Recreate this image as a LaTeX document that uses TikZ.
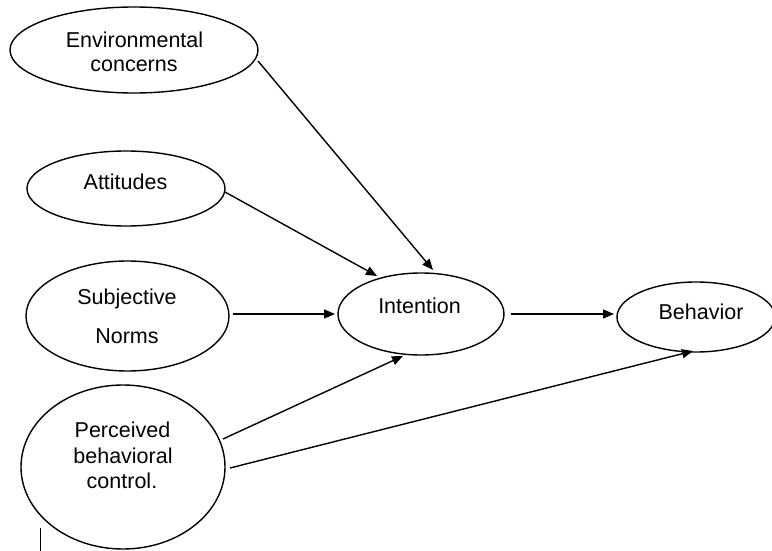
\documentclass[tikz,border=0pt]{standalone}
\usepackage{fontspec}
\setmainfont{Liberation Sans}
\usetikzlibrary{shapes.geometric,arrows.meta}
\begin{document}
\begin{tikzpicture}[x=1pt,y=-1pt,
  oval/.style={draw=black,line width=1.4pt,ellipse,inner sep=0pt},
  lbl/.style={anchor=base,inner sep=0pt,font=\fontsize{21.5}{25}\selectfont},
  arr/.style={line width=1.4pt,-{Triangle[length=11pt,width=9pt]}}]
\useasboundingbox (0,0) rectangle (772,551);
% ellipses
\node[oval,minimum width=248pt,minimum height=86pt] (env) at (134,50) {};
\node[oval,minimum width=198pt,minimum height=75pt] (att) at (126,188.5) {};
\node[oval,minimum width=203pt,minimum height=110pt] (sn) at (127.5,316) {};
\node[oval,minimum width=204pt,minimum height=164pt] (pbc) at (123,467) {};
\node[oval,minimum width=166pt,minimum height=82pt] (int) at (421,314) {};
\node[oval,minimum width=158pt,minimum height=70pt] (beh) at (696,317) {};
% texts
\node[lbl] (envA) at (134.5,48) {Environmental};
\node[lbl] (envB) at (134,72) {concerns};
\node[lbl] (attA) at (125.5,189) {Attitudes};
\node[lbl] (snA) at (127,304) {Subjective};
\node[lbl] (snB) at (127,343) {Norms};
\node[lbl] (intA) at (419.5,313) {Intention};
\node[lbl] (behA) at (701,319) {Behavior};
\node[lbl] (pbcA) at (122.5,437) {Perceived};
\node[lbl] (pbcB) at (123,463) {behavioral};
\node[lbl] (pbcC) at (122,488) {control.};
% connector end points
\coordinate (e1) at (258,61);
\coordinate (e2) at (433,270);
\coordinate (a1) at (225,192);
\coordinate (a2) at (377,276);
\coordinate (s1) at (233,314);
\coordinate (s2) at (335,314);
\coordinate (i1) at (511,314);
\coordinate (i2) at (614,314);
\coordinate (p1) at (223,439);
\coordinate (p2) at (403,356);
\coordinate (q1) at (230,468);
\coordinate (q2) at (693,351);
\draw[arr] (e1) -- (e2);
\draw[arr] (a1) -- (a2);
\draw[arr] (s1) -- (s2);
\draw[arr] (i1) -- (i2);
\draw[arr] (p1) -- (p2);
\draw[arr] (q1) -- (q2);
% stray mark
\coordinate (m1) at (40,528);
\coordinate (m2) at (40,551);
\draw[line width=1pt] (m1) -- (m2);
\end{tikzpicture}
\end{document}
